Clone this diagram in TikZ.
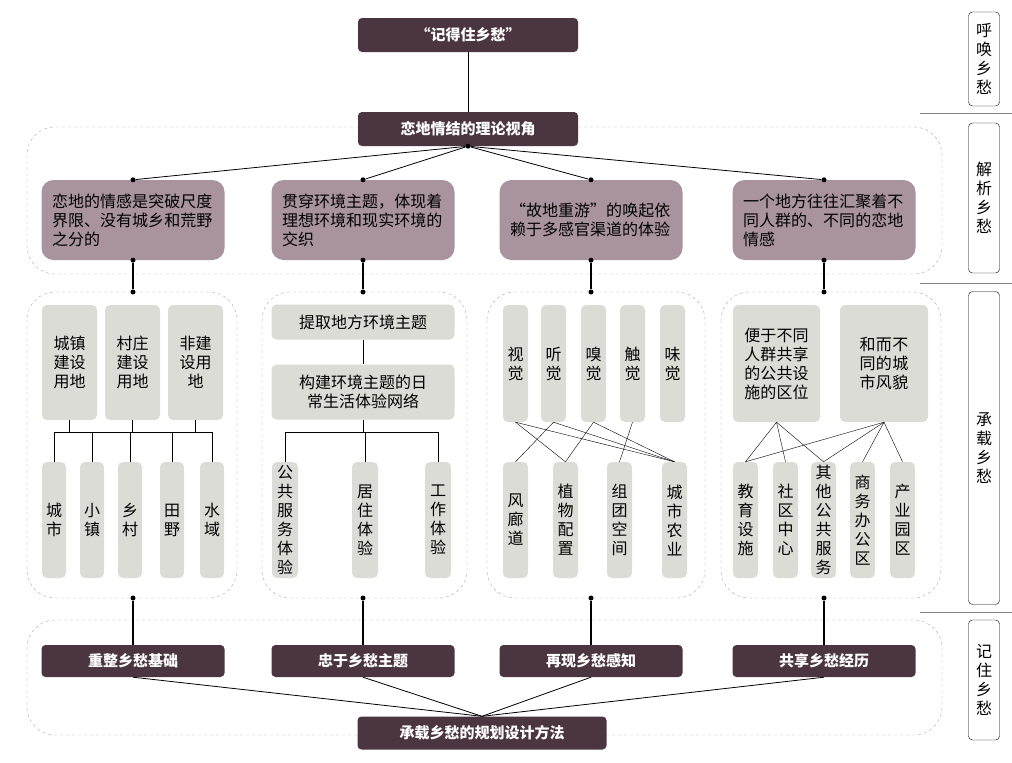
\documentclass[tikz,border=0pt]{standalone}
\usepackage{fontspec}
\setmainfont{Noto Sans CJK SC}
\XeTeXlinebreaklocale "zh"
\XeTeXlinebreakskip=0pt plus 1pt
\usetikzlibrary{positioning}
\definecolor{heart_dark}{HTML}{4A3541}
\definecolor{heart_mauve}{HTML}{A8939F}
\definecolor{scene_gray}{HTML}{DCDCD7}
\definecolor{panel_gray}{HTML}{ABABAB}
\tikzset{
    dark_node/.style={
        fill=heart_dark,
        rounded corners=4pt,
        text=white,
        align=center,
        font=\fontsize{15}{18}\selectfont\bfseries
    },
    mauve_node/.style={
        fill=heart_mauve,
        rounded corners=12pt,
        minimum width=183pt,
        minimum height=80pt,
        text width=162pt,
        align=left,
        font=\fontsize{16}{19}\selectfont
    },
    gray_node/.style={
        fill=scene_gray,
        rounded corners=5pt,
        align=center,
        font=\fontsize{16}{19}\selectfont
    },
    side_node/.style={
        draw=black,
        rounded corners=4pt,
        minimum width=31pt,
        align=center,
        font=\fontsize{16}{19}\selectfont
    },
    panel_frame/.style={
        draw=panel_gray,
        dashed,
        rounded corners=28pt
    },
    link/.style={
        thick,
        draw=black
    },
    dot/.style={
        circle,
        fill=black,
        inner sep=0pt,
        minimum size=5pt
    }
}

\begin{document}
\begin{tikzpicture}[x=1pt, y=-1pt]
\useasboundingbox (0,0) rectangle (1012,763);

% Dashed frames
\draw[panel_frame] (27,127) rectangle (942,274);
\draw[panel_frame] (27,292) rectangle (237,598);
\draw[panel_frame] (262,292) rectangle (467,598);
\draw[panel_frame] (487,292) rectangle (705,598);
\draw[panel_frame] (721,292) rectangle (941,598);
\draw[panel_frame] (27,620) rectangle (942,735);

% Side labels
\node[side_node, minimum height=94pt] (call) at (984,59) {呼\\唤\\乡\\愁};
\node[side_node, minimum height=150pt] (parse) at (984,198) {解\\析\\乡\\愁};
\node[side_node, minimum height=313pt] (carry) at (984,448) {承\\载\\乡\\愁};
\node[side_node, minimum height=120pt] (keep) at (984,680) {记\\住\\乡\\愁};
\foreach \yline in {113, 283, 612} {
    \draw[gray] (920,\yline) -- (1012,\yline);
}

% Top
\node[dark_node, minimum width=220pt, minimum height=34pt] (remember) at (468,35) {“记得住乡愁”};
\node[dark_node, minimum width=220pt, minimum height=34pt] (theory) at (468,129) {恋地情结的理论视角};
\draw[link] (remember) -- (theory);

% Second level
\node[mauve_node] (scale) at (133,220) {恋地的情感是突破尺度界限、没有城乡和荒野之分的};
\node[mauve_node] (theme) at (363,220) {贯穿环境主题，体现着理想环境和现实环境的交织};
\node[mauve_node] (senses) at (591,220) {“故地重游”的唤起依赖于多感官渠道的体验};
\node[mauve_node] (groups) at (824,220) {一个地方往往汇聚着不同人群的、不同的恋地情感};
\node[dot] (theory_foot) at (theory.south) {};
\foreach \sub in {scale, theme, senses, groups} {
    \node[dot] (\sub_head) at (\sub.north) {};
    \node[dot] (\sub_foot) at (\sub.south) {};
    \node[dot] (\sub_panel) at (\sub.north |- 0,292) {};
    \draw[link] (theory_foot) -- (\sub_head);
    \draw[link, line width=1.4pt] (\sub_foot) -- (\sub_panel);
}

% Panel 1
\node[gray_node, minimum width=55pt, minimum height=115pt] (town_land) at (69.5,362.5) {城镇\\建设\\用地};
\node[gray_node, minimum width=55pt, minimum height=115pt] (village_land) at (132.5,362.5) {村庄\\建设\\用地};
\node[gray_node, minimum width=55pt, minimum height=115pt] (open_land) at (195.5,362.5) {非建\\设用\\地};
\foreach \name/\xpos/\txt in {city/54/城\\市, town/92/小\\镇, village/130/乡\\村, field/172/田\\野, water/212/水\\域} {
    \node[gray_node, minimum width=24pt, minimum height=116pt, inner sep=1pt] (\name) at (\xpos,520) {\txt};
    \draw[thin] (\name.north) -- (\xpos,432);
}
\draw[thin] (54,432) -- (212,432);
\foreach \land in {town_land, village_land, open_land} {
    \draw[thin] (\land.south) -- (\land.south |- 0,432);
}

% Panel 2
\node[gray_node, minimum width=183pt, minimum height=35pt] (extract) at (363,322) {提取地方环境主题};
\node[gray_node, minimum width=183pt, minimum height=55pt] (network) at (363,392) {构建环境主题的日\\常生活体验网络};
\draw[thin] (extract) -- (network);
\draw[thin] (285,432) -- (438,432);
\draw[thin] (network.south) -- (363,432);
\foreach \name/\xpos/\txt in {public/285/公\\共\\服\\务\\体\\验, living/365/居\\住\\体\\验, work/438/工\\作\\体\\验} {
    \node[gray_node, minimum width=26pt, minimum height=116pt, inner sep=1pt] (\name) at (\xpos,520) {\txt};
    \draw[thin] (\name.north) -- (\xpos,432);
}

% Panel 3
\foreach \name/\xpos/\txt in {sight/515.5/视\\觉, hear/553.5/听\\觉, smell/593.5/嗅\\觉, touch/632.5/触\\觉, taste/672.5/味\\觉} {
    \node[gray_node, minimum width=25pt, minimum height=117pt, inner sep=1pt] (\name) at (\xpos,363.5) {\txt};
}
\foreach \name/\xpos/\txt in {wind/515.5/风\\廊\\道, plant/565.5/植\\物\\配\\置, cluster/619.5/组\\团\\空\\间, farm/674.5/城\\市\\农\\业} {
    \node[gray_node, minimum width=25pt, minimum height=116pt, inner sep=1pt] (\name) at (\xpos,520) {\txt};
}
\foreach \from/\to in {sight/plant, sight/farm, hear/wind, hear/farm, smell/plant, smell/farm, touch/cluster} {
    \draw[thin] (\from.south) -- (\to.north);
}

% Panel 4
\node[gray_node, minimum width=87pt, minimum height=117pt, text width=70pt] (shared) at (776.5,363.5) {便于不同人群共享的公共设施的区位};
\node[gray_node, minimum width=88pt, minimum height=117pt, text width=70pt] (harmony) at (884,363.5) {和而不同的城市风貌\\[2.2em]};
\foreach \name/\xpos/\txt in {school/745.5/教\\育\\设\\施, community/785.5/社\\区\\中\\心, service/823.5/其\\他\\公\\共\\服\\务, office/862.5/商\\务\\办\\公\\区, park/902.5/产\\业\\园\\区} {
    \node[gray_node, minimum width=25pt, minimum height=116pt, inner sep=1pt] (\name) at (\xpos,520) {\txt};
}
\foreach \from/\to in {shared/school, shared/community, shared/service, harmony/school, harmony/service, harmony/office, harmony/park} {
    \draw[thin] (\from.south) -- (\to.north);
}

% Bottom
\node[dark_node, minimum width=183pt, minimum height=32pt] (rebuild) at (133,661) {重整乡愁基础};
\node[dark_node, minimum width=183pt, minimum height=32pt] (loyal) at (363,661) {忠于乡愁主题};
\node[dark_node, minimum width=183pt, minimum height=32pt] (reappear) at (591,661) {再现乡愁感知};
\node[dark_node, minimum width=183pt, minimum height=32pt] (share) at (824,661) {共享乡愁经历};
\node[dark_node, minimum width=249pt, minimum height=33pt] (method) at (482,733) {承载乡愁的规划设计方法};
\foreach \base in {rebuild, loyal, reappear, share} {
    \node[dot] (\base_panel) at (\base.north |- 0,598) {};
    \draw[link, line width=1.4pt] (\base_panel) -- (\base.north);
    \draw[link] (\base.south) -- (method.north);
}

\end{tikzpicture}
\end{document}
